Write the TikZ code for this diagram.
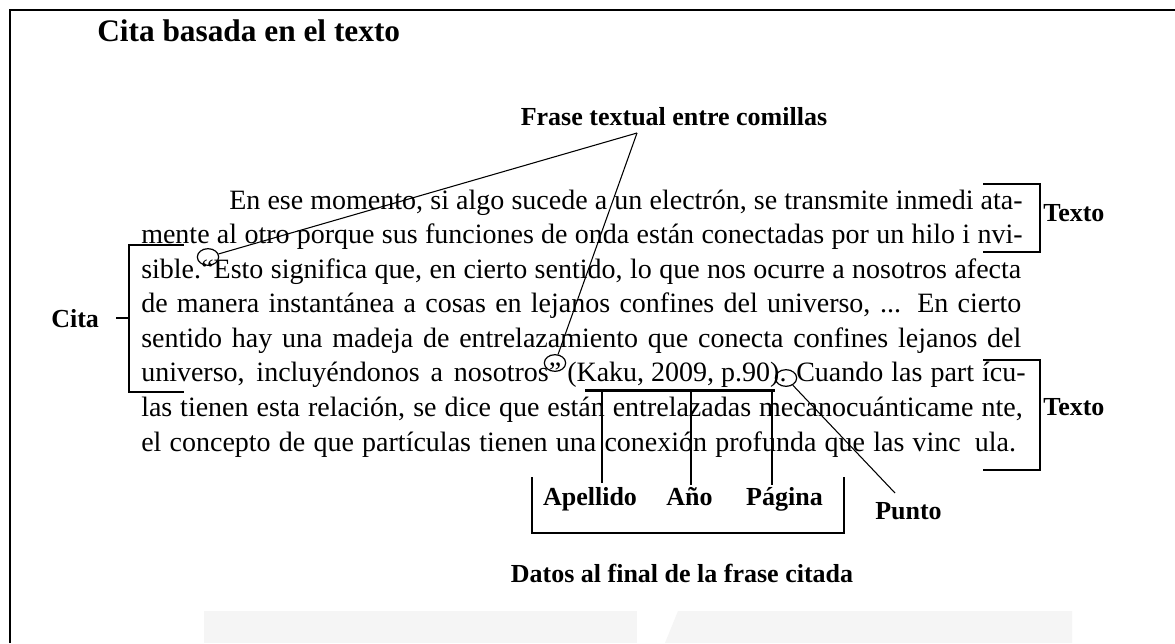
\documentclass[tikz,border=0pt]{standalone}
\usepackage{fontspec}
\setmainfont{Liberation Serif}
\usetikzlibrary{shapes.geometric}

\begin{document}
\begin{tikzpicture}[x=0.75pt, y=-0.75pt,
            linea/.style={anchor=base west, inner sep=0pt, font=\fontsize{21}{24}\selectfont},
            etiqueta/.style={anchor=base, inner sep=0pt, font=\bfseries\fontsize{19.5}{22}\selectfont},
            marca/.style={ellipse, draw=black, line width=0.9pt, minimum width=16pt, minimum height=12.5pt, inner sep=0pt},
            llave/.style={draw=black, line width=1.5pt},
            conector/.style={draw=black, line width=0.8pt},
        ]
            \useasboundingbox (0,0) rectangle (1175,643);
            \fill[white] (0,0) rectangle (1175,643);
            \fill[gray!8] (204,611) rectangle (637,643);
            \fill[gray!8] (665,643) -- (678,611) -- (1072,611) -- (1072,643) -- cycle;
            \draw[black, line width=2.2pt] (10,643) -- (10,10) -- (1175,10);

            \node(titulo) at (97,41) [anchor=base west, inner sep=0pt, font=\bfseries\fontsize{23.5}{26}\selectfont] {Cita basada en el texto};
            \node[etiqueta](frase) at (674,125) {Frase textual entre comillas};

            \node[linea](l1) at (229,209) {\makebox[595pt][s]{En ese momento, si algo sucede a un electrón, se transmite inmedi ata-}};
            \node[linea](l2) at (141,243.6) {\makebox[661pt][s]{mente al otro porque sus funciones de onda están conectadas por un hilo i nvi-}};
            \node[linea](l3a) at (141,278.1) {sible.};
            \node[linea](l3b) at (201,278.1) {\makebox[615pt][s]{“Esto significa que, en cierto sentido, lo que nos ocurre a nosotros afecta}};
            \node[linea](l4) at (141,312.7) {\makebox[660pt][s]{de manera instantánea a cosas en lejanos confines del universo, ... En cierto}};
            \node[linea](l5) at (141,347.3) {\makebox[660pt][s]{sentido hay una madeja de entrelazamiento que conecta confines lejanos del}};
            \node[linea](l6a) at (141,381.9) {\makebox[315pt][s]{universo, incluyéndonos a nosotros”}};
            \node[linea](l6b) at (567,381.9) {(Kaku, 2009, p.90).};
            \node[linea](l6c) at (796,381.9) {\makebox[172pt][s]{Cuando las part ícu-}};
            \node[linea](l7) at (141,416.4) {\makebox[661pt][s]{las tienen esta relación, se dice que están entrelazadas mecanocuánticame nte,}};
            \node[linea](l8) at (141,451) {\makebox[656pt][s]{el concepto de que partículas tienen una conexión profunda que las vinc\enspace ula.}};

            \node[marca](abre) at (208,257) {};
            \node[marca](cierra) at (555,363) {};
            \node[marca](punto) at (786,378) {};
            \coordinate(vertice) at (637,133);
            \draw[conector] (vertice) -- (abre);
            \draw[conector] (vertice) -- (cierra);

            \node[etiqueta, anchor=base west](cita) at (51,327) {Cita};
            \draw[llave] (184,245) -- (129,245) -- (129,392) -- (184,392);
            \draw[llave] (116,318) -- (129,318);

            \node[etiqueta, anchor=base west](texto1) at (1043,221) {Texto};
            \draw[llave] (983,184) -- (1040,184) -- (1040,252) -- (983,252);
            \node[etiqueta, anchor=base west](texto2) at (1043,415) {Texto};
            \draw[llave] (983,360) -- (1040,360) -- (1040,470) -- (983,470);

            \node[etiqueta](apellido) at (590,505) {Apellido};
            \node[etiqueta](anio) at (689.5,505) {Año};
            \node[etiqueta](pagina) at (784.5,505) {Página};
            \draw[black, line width=2.2pt] (585,390.7) -- (775,390.7);
            \coordinate(kA) at (602,390.7);
            \coordinate(kB) at (691,390.7);
            \coordinate(kC) at (772,390.7);
            \draw[black, line width=1.5pt] (kA) -- (602,483);
            \draw[conector] (kB) -- (691,485);
            \draw[conector] (kC) -- (772,485);
            \draw[llave] (532,477) -- (532,533) -- (844,533) -- (844,477);

            \node[etiqueta, anchor=base west](puntolbl) at (875,519) {Punto};
            \coordinate(puntofin) at (895,493);
            \draw[conector] (punto) -- (puntofin);

            \node[etiqueta](datos) at (682,582) {Datos al final de la frase citada};
        \end{tikzpicture}
\end{document}
